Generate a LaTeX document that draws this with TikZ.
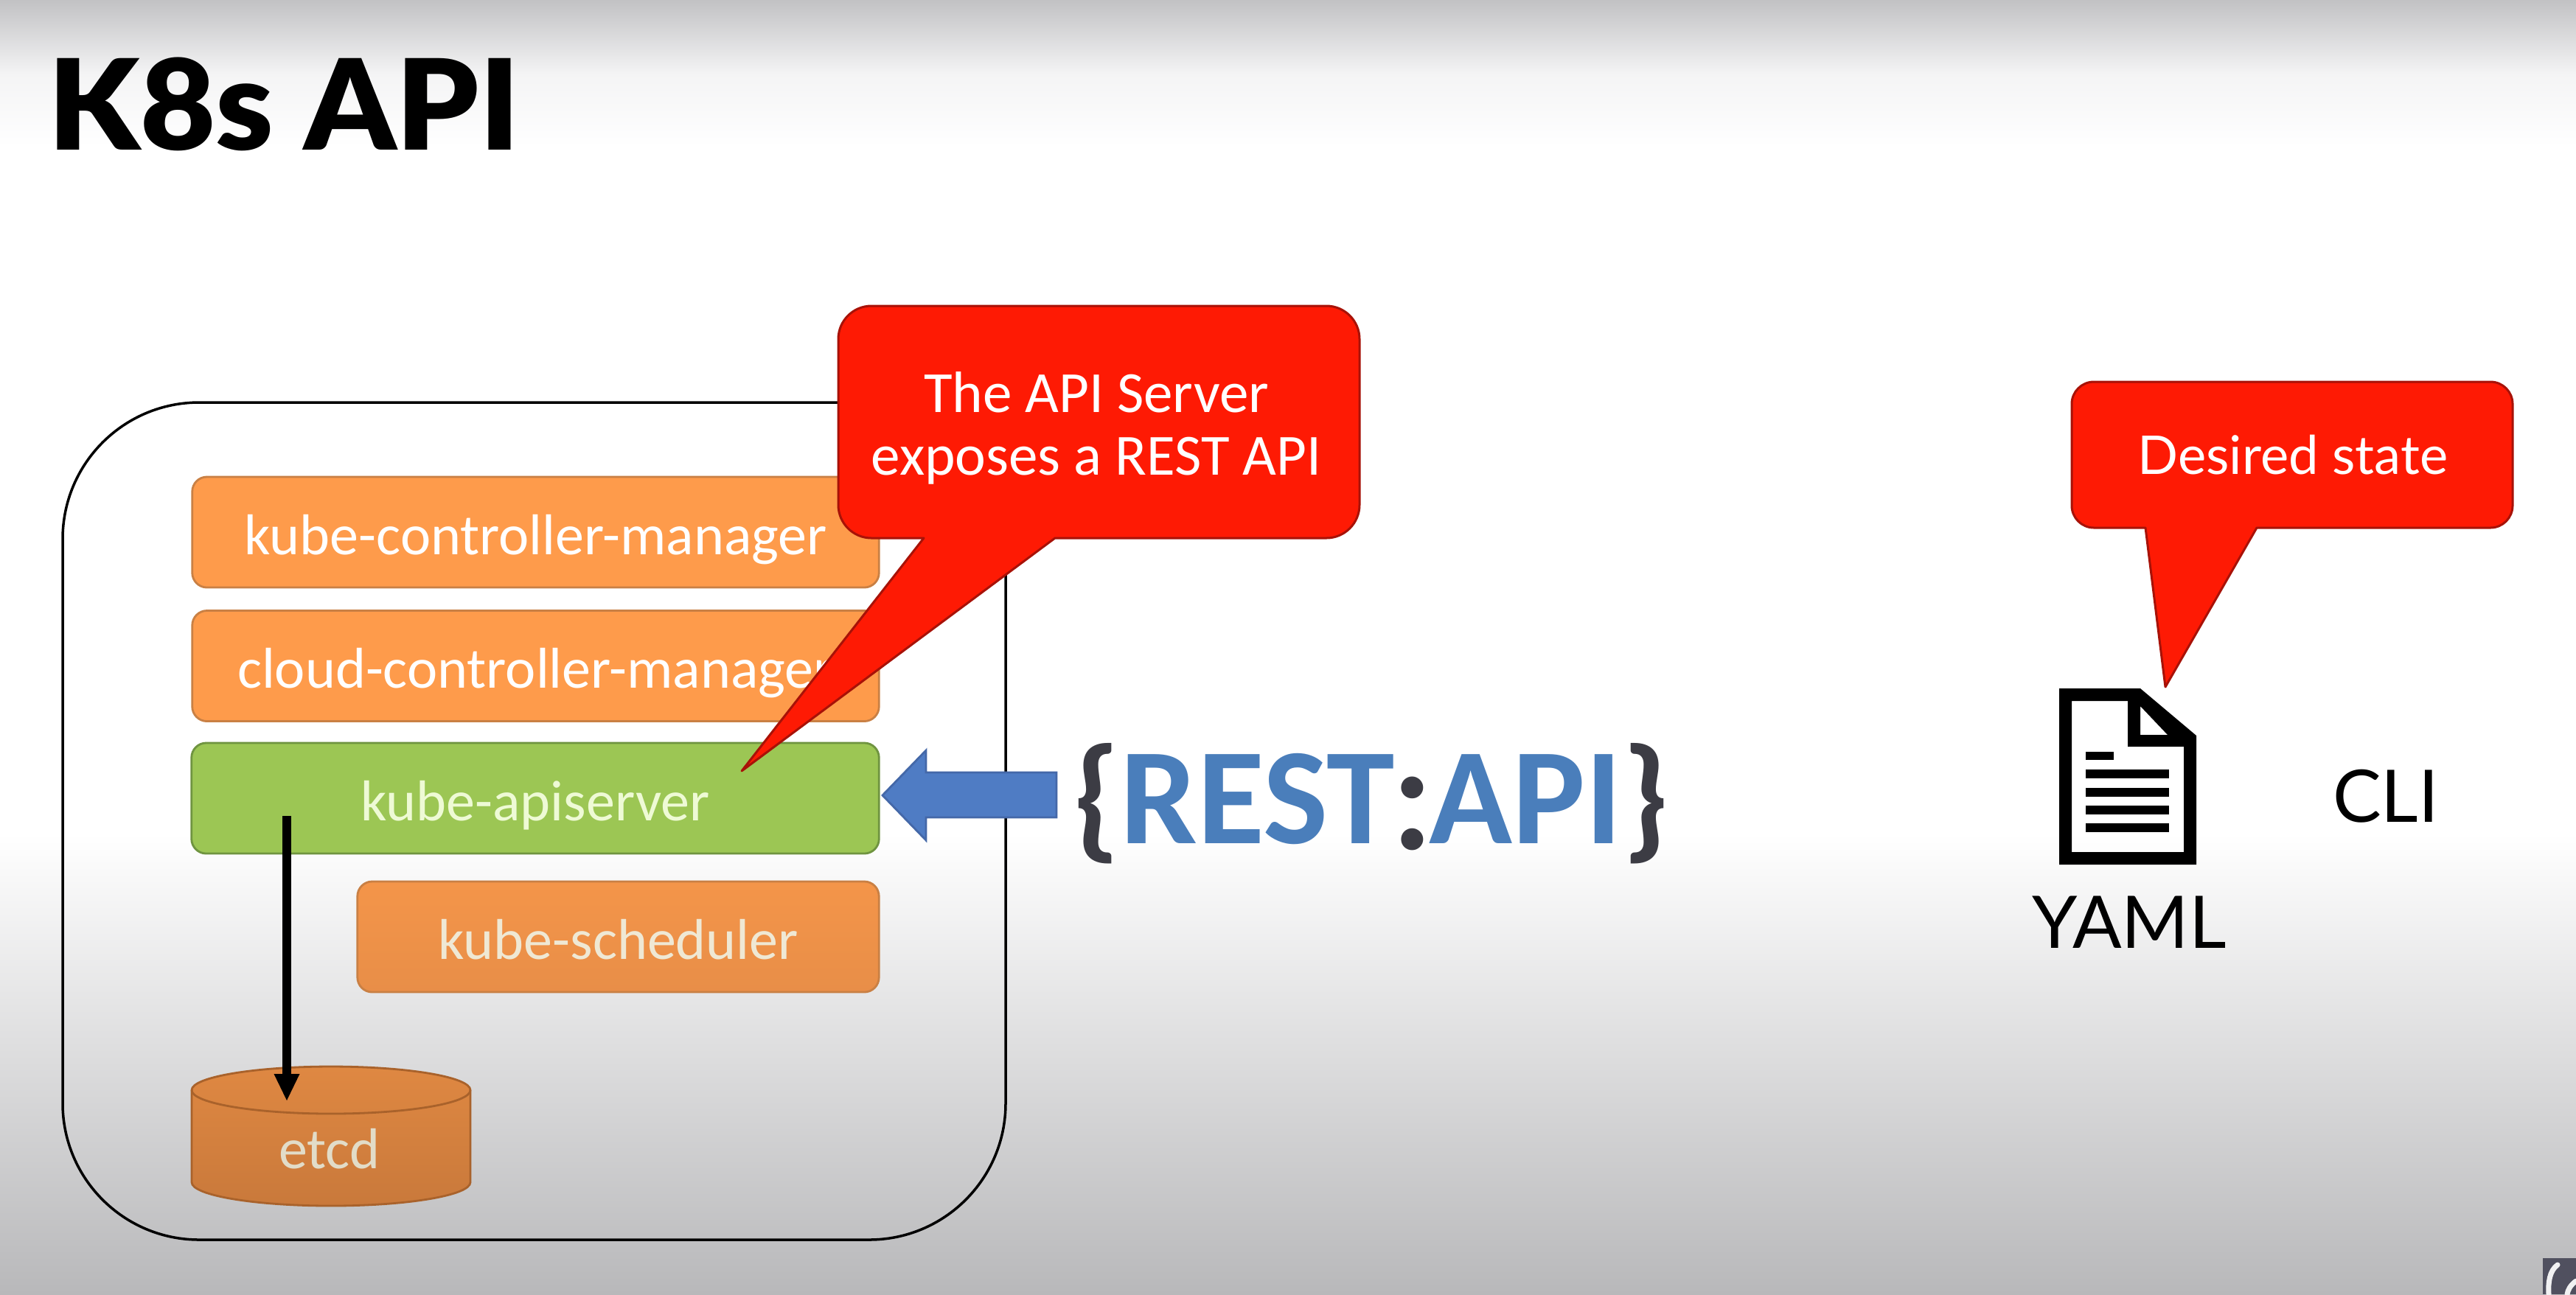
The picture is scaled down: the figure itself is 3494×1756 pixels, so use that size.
\documentclass[tikz,border=0pt]{standalone}
\usepackage{fontspec}
\setmainfont{Carlito}
\newfontfamily\latofont{Lato}
\newfontfamily\latoblack{Lato Black}
\definecolor{boxorange}{HTML}{FE9B4B}
\definecolor{boxorangeedge}{HTML}{C98044}
\definecolor{boxgreen}{HTML}{9CC654}
\definecolor{boxgreenedge}{HTML}{6F9440}
\definecolor{schedtop}{HTML}{F49549}
\definecolor{schedbot}{HTML}{E88E48}
\definecolor{cyltop}{HTML}{DF8842}
\definecolor{cylbot}{HTML}{C9793B}
\definecolor{cyledge}{HTML}{A9622B}
\definecolor{calloutred}{HTML}{FE1A04}
\definecolor{calloutedge}{HTML}{A81208}
\definecolor{arrowblue}{HTML}{4F7CC4}
\definecolor{arrowedge}{HTML}{4468A8}
\definecolor{logoblue}{HTML}{4A7EBB}
\definecolor{logodark}{HTML}{3C3C44}
\definecolor{bgtop}{HTML}{C2C2C4}
\definecolor{bgmid}{HTML}{F4F4F5}
\definecolor{bgbot}{HTML}{B8B8BA}
\definecolor{badge}{HTML}{50505F}
\definecolor{apitext}{HTML}{EEFAD5}
\definecolor{schedtext}{HTML}{EFE8D4}
\definecolor{etcdtext}{HTML}{E2DCC8}
\tikzset{
  comp/.style={rounded corners=0.2cm, draw=boxorangeedge, line width=0.28mm, inner sep=0pt,
    font=\fontsize{22.2}{24}\selectfont, text=white, minimum height=1.5cm, text height=0.6cm, text depth=0cm},
  calloutshape/.style={fill=calloutred, draw=calloutedge, line width=0.3mm, line join=round},
  callouttext/.style={text=white, inner sep=0pt, align=center},
  plain/.style={inner sep=0pt, anchor=base}
}
\begin{document}
\begin{tikzpicture}[x=0.01cm,y=-0.01cm]
\useasboundingbox (0,0) rectangle (3494,1756);
% background
\fill[white] (0,0) rectangle (3494,1756);
\shade[top color=bgtop,bottom color=bgmid] (0,0) rectangle (3494,101);
\shade[top color=bgmid,bottom color=white] (0,100) rectangle (3494,200);
\shade[top color=white,bottom color=bgbot] (0,1130) rectangle (3494,1756);
% title
\node[plain,anchor=base west,xscale=1.035,font=\latoblack\fontsize{48.5}{50}\selectfont] (title) at (65,203) {K8s API};
% outer frame
\draw[black,line width=0.35mm,rounded corners=1.85cm] (85,546) rectangle (1364,1682);
% components
\node[comp,fill=boxorange,minimum width=9.31cm] (kcm) at (726.5,722) {kube-controller-manager};
\node[comp,fill=boxorange,minimum width=9.31cm] (ccm) at (726.5,903.5) {cloud-controller-manager};
\node[comp,fill=boxgreen,draw=boxgreenedge,minimum width=9.32cm,text=apitext] (api) at (726,1083) {kube-apiserver};
\node[comp,top color=schedtop,bottom color=schedbot,minimum width=7.07cm,text=schedtext] (sched) at (838.5,1271) {kube-scheduler};
% etcd cylinder
\draw[top color=cyltop,bottom color=cylbot,draw=cyledge,line width=0.28mm]
  (260,1479) arc[x radius=189,y radius=32,start angle=180,end angle=360]
  -- (638,1604) arc[x radius=189,y radius=32,start angle=0,end angle=180] -- cycle;
\draw[cyledge,line width=0.28mm] (260,1479) arc[x radius=189,y radius=32,start angle=180,end angle=0];
\node[plain,text=etcdtext,font=\fontsize{22.2}{24}\selectfont] (etcd) at (447,1585) {etcd};
% arrow from apiserver to etcd
\coordinate (apidown) at (389,1107);
\coordinate (etcdtop) at (389,1493);
\draw[black,line width=1.2mm] (apidown) -- (389,1460);
\fill[black] (371.5,1457) -- (406.5,1457) -- (etcdtop) -- cycle;
% REST arrow
\draw[fill=arrowblue,draw=arrowedge,line width=0.28mm] (1197,1079) -- (1256,1018) -- (1256,1048) -- (1433,1048) -- (1433,1109) -- (1256,1109) -- (1256,1140) -- cycle;
% logo
\node[plain,font=\bfseries\fontsize{53}{55}\selectfont,text=logoblue] (logo) at (1860,1144)
  {\textcolor{logodark}{\{}REST\kern-0.02cm{\latoblack\fontsize{56}{58}\selectfont\raisebox{-0.08cm}{\textcolor{logodark}{:}}}\kern-0.02cm API\textcolor{logodark}{\}}};
% callout 1
\draw[calloutshape] (1431,730) -- (1799,730) arc[radius=45,start angle=90,end angle=0]
  -- (1844,460) arc[radius=45,start angle=0,end angle=-90]
  -- (1182,415) arc[radius=45,start angle=-90,end angle=-180]
  -- (1137,685) arc[radius=45,start angle=180,end angle=90]
  -- (1253,730) -- (1006,1046) -- cycle;
\node[callouttext,font=\fontsize{22.5}{24.2}\selectfont] (calla) at (1487,581) {The API Server\\exposes a REST API};
% callout 2
\draw[calloutshape] (3061,716) -- (3378,716) arc[radius=30,start angle=90,end angle=0]
  -- (3408,548) arc[radius=30,start angle=0,end angle=-90]
  -- (2840,518) arc[radius=30,start angle=-90,end angle=-180]
  -- (2810,686) arc[radius=30,start angle=180,end angle=90]
  -- (2910,716) -- (2937,932) -- cycle;
\node[plain,text=white,font=\latofont\fontsize{20.6}{24}\selectfont] (callb) at (3110,643) {Desired state};
% document icon
\fill[black,even odd rule] (2793,934) -- (2903,934) -- (2979,998) -- (2979,1173) -- (2793,1173) -- cycle
  (2810,951) -- (2810,1156) -- (2962,1156) -- (2962,1013) -- (2886,1013) -- (2886,951) -- cycle
  (2903,958) -- (2903,997) -- (2940,997) -- cycle;
\fill[black] (2828.5,1020) rectangle (2867,1031);
\fill[black] (2828.5,1044) rectangle (2942,1056);
\fill[black] (2828.5,1069) rectangle (2942,1081);
\fill[black] (2828.5,1093) rectangle (2942,1105);
\fill[black] (2828.5,1117) rectangle (2942,1129);
\node[plain,font=\latofont\fontsize{28}{30}\selectfont] (yaml) at (2888,1286) {YAML};
\node[plain,font=\latofont\fontsize{28}{30}\selectfont] (cli) at (3236,1115) {CLI};
% corner badge
\fill[badge] (3449,1707) rectangle (3494,1756);
\draw[white!92!badge,line width=0.7mm,line cap=round] (3469,1716) .. controls (3458,1724) and (3456,1740) .. (3457,1756);
\draw[white!92!badge,line width=0.7mm,line cap=round] (3494,1738) .. controls (3486,1744) and (3483,1750) .. (3482,1756);
\end{tikzpicture}
\end{document}
